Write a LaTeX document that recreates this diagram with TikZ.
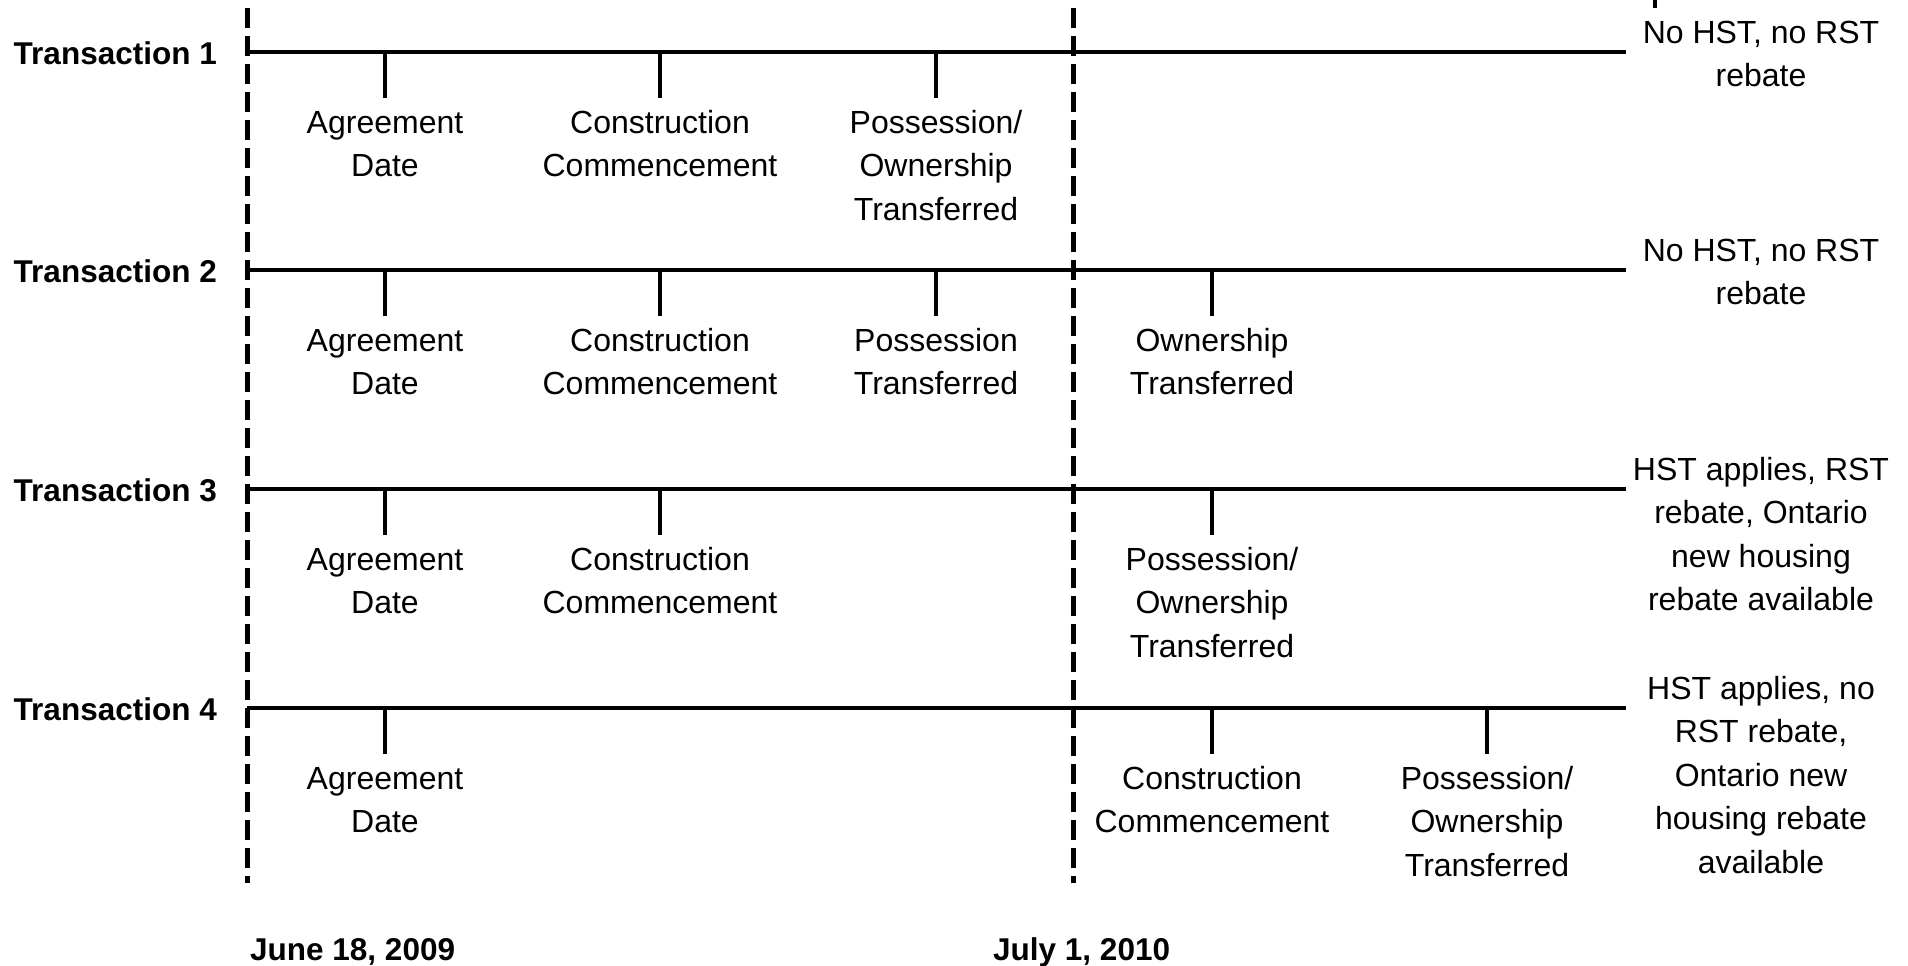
\documentclass[tikz,border=0pt]{standalone}
\usepackage{fontspec}
\setmainfont{Liberation Sans}
\begin{document}
\begin{tikzpicture}[x=1pt,y=-1pt,
  tline/.style={line width=4.5pt},
  dline/.style={line width=5pt, dash pattern=on 20pt off 8pt},
  tickline/.style={line width=3.2pt},
  lbl/.style={font=\fontsize{32}{43.5}\selectfont, align=center, anchor=north, inner sep=0pt},
  tlab/.style={font=\fontsize{31.5}{37}\selectfont\bfseries, inner sep=0pt},
]
\useasboundingbox (0,0) rectangle (1908,966);

% dashed date lines
\coordinate (v1t) at (247,8);
\coordinate (v1b) at (247,883);
\coordinate (v2t) at (1073,8);
\coordinate (v2b) at (1073,883);
\draw[dline] (v1t) -- (v1b);
\draw[dline] (v2t) -- (v2b);

% partial tick at top right
\coordinate (pt1) at (1655,0);
\coordinate (pt2) at (1655,8);
\draw[tickline] (pt1) -- (pt2);

% ---------- Transaction 1 (y=52)
\coordinate (L1) at (247,52);
\coordinate (R1) at (1626,52);
\draw[tline] (L1) -- (R1);
\node[tlab, anchor=base east] (t1) at (217,64.5) {Transaction 1};
\coordinate (k11) at (385,52);  \coordinate (e11) at (385,98);
\coordinate (k12) at (660,52);  \coordinate (e12) at (660,98);
\coordinate (k13) at (936,52);  \coordinate (e13) at (936,98);
\draw[tickline] (k11) -- (e11);
\draw[tickline] (k12) -- (e12);
\draw[tickline] (k13) -- (e13);
\node[lbl] (l11) at (385,102.5) {\strut Agreement\\Date};
\node[lbl] (l12) at (660,102.5) {\strut Construction\\Commencement};
\node[lbl] (l13) at (936,102.5) {\strut Possession/\\Ownership\\Transferred};
\node[lbl] (r1) at (1761,12.4) {\strut No HST, no RST\\rebate};

% ---------- Transaction 2 (y=270)
\coordinate (L2) at (247,270);
\coordinate (R2) at (1626,270);
\draw[tline] (L2) -- (R2);
\node[tlab, anchor=base east] (t2) at (217,282.5) {Transaction 2};
\coordinate (k21) at (385,270);  \coordinate (e21) at (385,316);
\coordinate (k22) at (660,270);  \coordinate (e22) at (660,316);
\coordinate (k23) at (936,270);  \coordinate (e23) at (936,316);
\coordinate (k24) at (1212,270); \coordinate (e24) at (1212,316);
\draw[tickline] (k21) -- (e21);
\draw[tickline] (k22) -- (e22);
\draw[tickline] (k23) -- (e23);
\draw[tickline] (k24) -- (e24);
\node[lbl] (l21) at (385,320.5) {\strut Agreement\\Date};
\node[lbl] (l22) at (660,320.5) {\strut Construction\\Commencement};
\node[lbl] (l23) at (936,320.5) {\strut Possession\\Transferred};
\node[lbl] (l24) at (1212,320.5) {\strut Ownership\\Transferred};
\node[lbl] (r2) at (1761,230.4) {\strut No HST, no RST\\rebate};

% ---------- Transaction 3 (y=489)
\coordinate (L3) at (247,489);
\coordinate (R3) at (1626,489);
\draw[tline] (L3) -- (R3);
\node[tlab, anchor=base east] (t3) at (217,501.5) {Transaction 3};
\coordinate (k31) at (385,489);  \coordinate (e31) at (385,535);
\coordinate (k32) at (660,489);  \coordinate (e32) at (660,535);
\coordinate (k34) at (1212,489); \coordinate (e34) at (1212,535);
\draw[tickline] (k31) -- (e31);
\draw[tickline] (k32) -- (e32);
\draw[tickline] (k34) -- (e34);
\node[lbl] (l31) at (385,539.5) {\strut Agreement\\Date};
\node[lbl] (l32) at (660,539.5) {\strut Construction\\Commencement};
\node[lbl] (l34) at (1212,539.5) {\strut Possession/\\Ownership\\Transferred};
\node[lbl] (r3) at (1761,449.4) {\strut HST applies, RST\\rebate, Ontario\\new housing\\rebate available};

% ---------- Transaction 4 (y=708)
\coordinate (L4) at (247,708);
\coordinate (R4) at (1626,708);
\draw[tline] (L4) -- (R4);
\node[tlab, anchor=base east] (t4) at (217,720.5) {Transaction 4};
\coordinate (k41) at (385,708);  \coordinate (e41) at (385,754);
\coordinate (k44) at (1212,708); \coordinate (e44) at (1212,754);
\coordinate (k45) at (1487,708); \coordinate (e45) at (1487,754);
\draw[tickline] (k41) -- (e41);
\draw[tickline] (k44) -- (e44);
\draw[tickline] (k45) -- (e45);
\node[lbl] (l41) at (385,758.5) {\strut Agreement\\Date};
\node[lbl] (l44) at (1212,758.5) {\strut Construction\\Commencement};
\node[lbl] (l45) at (1487,758.5) {\strut Possession/\\Ownership\\Transferred};
\node[lbl] (r4) at (1761,668.4) {\strut HST applies, no\\RST rebate,\\Ontario new\\housing rebate\\available};

% ---------- dates
\node[tlab, anchor=base west] (d1) at (250,960) {June 18, 2009};
\node[tlab, anchor=base west] (d2) at (993,960) {July 1, 2010};
\end{tikzpicture}
\end{document}
